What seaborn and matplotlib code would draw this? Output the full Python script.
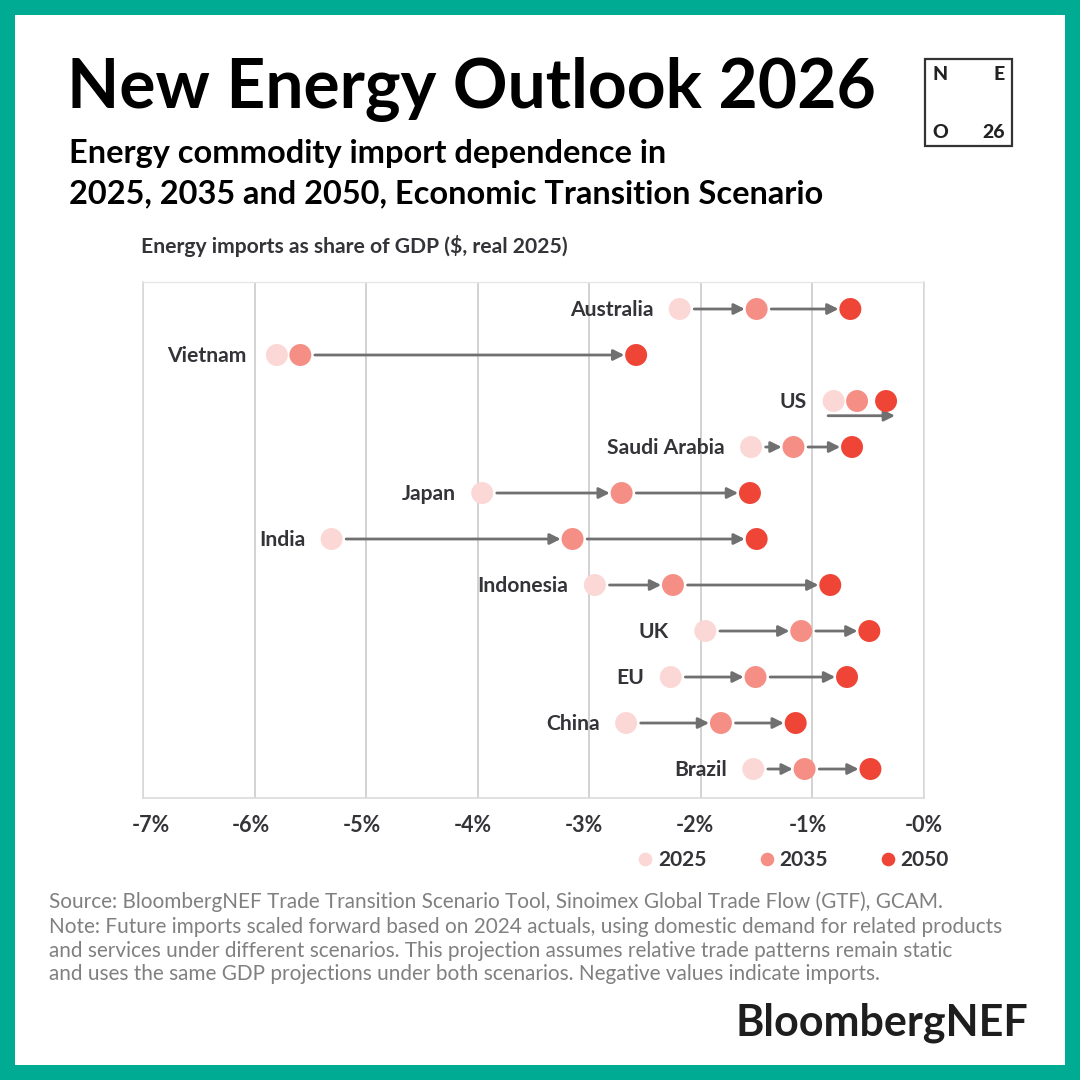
import matplotlib
matplotlib.use("Agg")
import matplotlib.pyplot as plt
from matplotlib.patches import Rectangle
from matplotlib.transforms import ScaledTranslation
import pandas as pd
import seaborn as sns

countries = ["Australia", "Vietnam", "US", "Saudi Arabia", "Japan", "India",
             "Indonesia", "UK", "EU", "China", "Brazil"]
v2025 = [-2.19, -5.80, -0.81, -1.55, -3.96, -5.31, -2.95, -1.96, -2.27, -2.67, -1.53]
v2035 = [-1.50, -5.59, -0.60, -1.17, -2.71, -3.15, -2.25, -1.10, -1.51, -1.82, -1.07]
v2050 = [-0.66, -2.58, -0.34, -0.645, -1.56, -1.50, -0.84, -0.49, -0.69, -1.15, -0.48]
years = ["2025", "2035", "2050"]
palette = ["#FBD8D5", "#F58F86", "#EF4537"]
xticks = [-7, -6, -5, -4, -3, -2, -1, 0]
xticklabels = ["-7%", "-6%", "-5%", "-4%", "-3%", "-2%", "-1%", "-0%"]
footer = ["Source: BloombergNEF Trade Transition Scenario Tool, Sinoimex Global Trade Flow (GTF), GCAM.",
          "Note: Future imports scaled forward based on 2024 actuals, using domestic demand for related products",
          "and services under different scenarios. This projection assumes relative trade patterns remain static",
          "and uses the same GDP projections under both scenarios. Negative values indicate imports."]

sns.set_theme(style="white")
plt.rcParams["font.family"] = ["Lato", "DejaVu Sans"]

W = 1080
fig = plt.figure(figsize=(10.8, 10.8), dpi=100, facecolor="#00AB94")
fig.add_artist(Rectangle((15 / W, 15 / W), 1050 / W, 1050 / W, transform=fig.transFigure,
                         facecolor="white", edgecolor="none", zorder=-5))

def fx(px):
    return px / W

def fy(px):
    return 1 - px / W

ax = fig.add_axes([fx(143), fy(798), fx(924 - 143), (798 - 282) / W])
ax.set_facecolor("white")

df = pd.DataFrame({"Country": countries, "2025": v2025, "2035": v2035, "2050": v2050})
long = df.melt(id_vars="Country", value_vars=years, var_name="Year", value_name="Share")
sns.scatterplot(data=long, x="Share", y="Country", hue="Year", hue_order=years, palette=palette,
                s=250, linewidth=0, ax=ax, zorder=3, clip_on=False)

ax.set_xlim(-7, 0)
ax.set_ylim(10.63, -0.587)
ax.set_xticks(xticks, xticklabels)
ax.set_yticks([])
ax.set_xlabel("")
ax.set_ylabel("")
ax.tick_params(axis="x", length=0, pad=12.5, labelsize=15.5, labelcolor="#333338")
tick_shift_px = [8, -4, -4, -5, -5, -6, -5, 0]
for t, dx in zip(ax.get_xticklabels(), tick_shift_px):
    t.set_fontweight("bold")
    t.set_transform(t.get_transform() + ScaledTranslation(dx / 100, 0, fig.dpi_scale_trans))
ax.grid(axis="x", color="#C6C6C6", lw=1.1, zorder=0)
ax.set_axisbelow(True)
for side in ["left", "right", "bottom"]:
    ax.spines[side].set_color("#DADADA")
    ax.spines[side].set_linewidth(1.2)
ax.spines["top"].set_color("#E6E6E6")
ax.spines["top"].set_linewidth(1.0)

label_gap = {"UK": -26, "Vietnam": -22}
arrow = dict(arrowstyle="-|>", color="#707070", lw=2.0, mutation_scale=16, shrinkA=10.5, shrinkB=8.5)
for i, c in enumerate(countries):
    ax.annotate(c, (v2025[i], i), xytext=(label_gap.get(c, -19), -1), textcoords="offset points",
                ha="right", va="center",
                fontsize=15.2, fontweight="bold", color="#333338", zorder=4)
    if c == "US":
        ax.annotate("", xy=(v2050[i] + 0.08, i + 0.32), xytext=(v2025[i] - 0.05, i + 0.32),
                    arrowprops=dict(arrow, shrinkA=0, shrinkB=0), zorder=2)
        continue
    if c != "Vietnam":
        ax.annotate("", xy=(v2035[i], i), xytext=(v2025[i], i), arrowprops=arrow, zorder=2)
    ax.annotate("", xy=(v2050[i], i), xytext=(v2035[i], i), arrowprops=arrow, zorder=2)

handles, labels = ax.get_legend_handles_labels()
ax.get_legend().remove()
fig.legend(handles, labels, loc="center", bbox_to_anchor=(fx(792), fy(860)), ncols=3, frameon=False,
           markerscale=0.62, handlelength=1, handletextpad=0.1, columnspacing=2.4,
           prop=dict(size=15, weight="bold"), labelcolor="#333338")

fig.text(fx(67), fy(89), "New Energy Outlook 2026", fontsize=48.8, fontweight="bold", color="black", va="center")
fig.text(fx(69), fy(154), "Energy commodity import dependence in", fontsize=23.4, fontweight="bold", color="black", va="center")
fig.text(fx(69), fy(194), "2025, 2035 and 2050, Economic Transition Scenario", fontsize=23.4, fontweight="bold", color="black", va="center")
fig.text(fx(141), fy(246), "Energy imports as share of GDP ($, real 2025)", fontsize=15.2, fontweight="bold", color="#333338", va="center")
for y, line in zip([902, 927, 951, 974], footer):
    fig.text(fx(49), fy(y), line, fontsize=14.95, color="#808080", va="center")
fig.text(fx(1028), fy(1023), "BloombergNEF", fontsize=31, fontweight="bold", color="#1E1E1E", ha="right", va="center")

fig.add_artist(Rectangle((fx(925), fy(146)), 87 / W, 87 / W, transform=fig.transFigure,
                         facecolor="white", edgecolor="#333333", lw=1.6))
for x, y, s, ha in [(932, 75, "N", "left"), (1005, 75, "E", "right"), (932, 133, "O", "left"), (1005, 133, "26", "right")]:
    fig.text(fx(x), fy(y), s, fontsize=14, fontweight="black", color="#222222", ha=ha, va="center")

fig.savefig("out.png", dpi=100, facecolor=fig.get_facecolor())
